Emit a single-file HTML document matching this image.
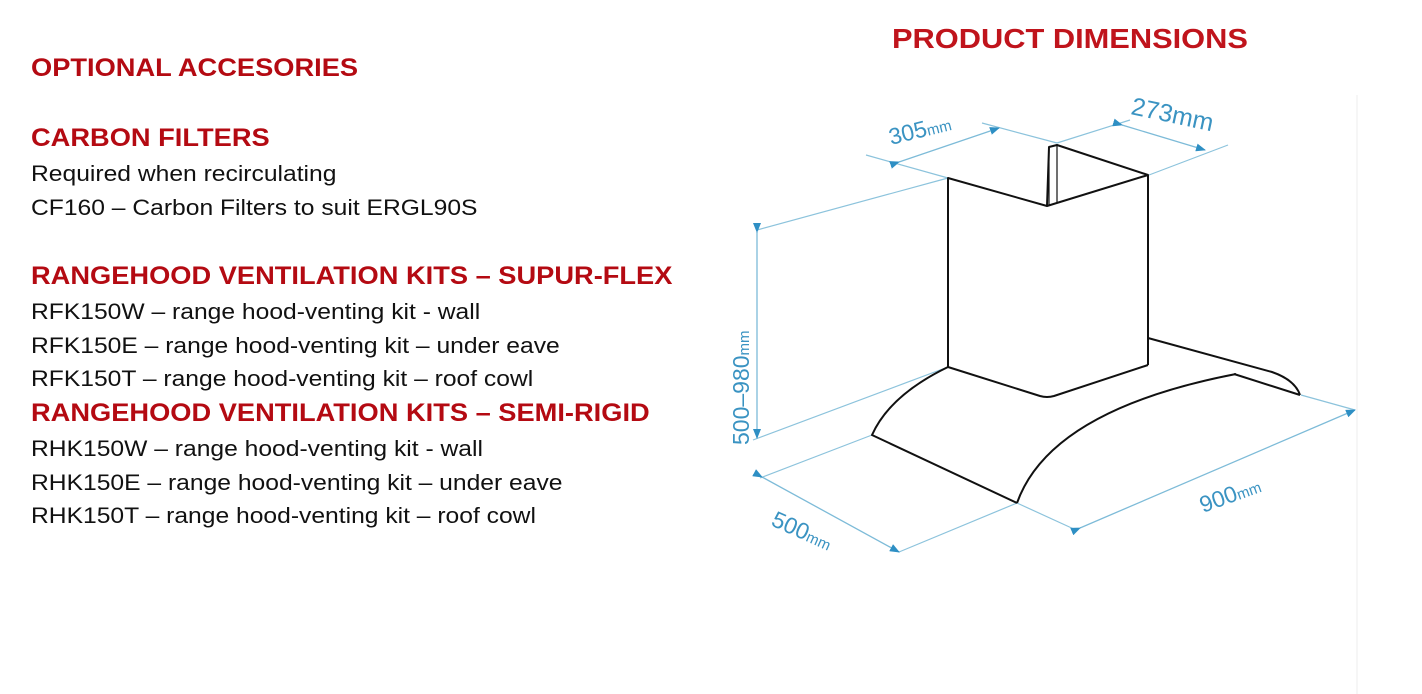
<!DOCTYPE html>
<html><head><meta charset="utf-8"><style>
body{margin:0;width:1422px;height:694px;background:#fff;position:relative;overflow:hidden;font-family:"Liberation Sans",Arial,sans-serif}
.t{position:absolute;left:31px;white-space:nowrap;line-height:1;transform-origin:0 0}
.h{color:#b40a12;font-weight:bold;font-size:25px;transform:scaleX(1.09)}
.b{color:#111;font-size:22px;transform:scaleX(1.12)}
</style></head><body>
<div class="t h" style="top:56px">OPTIONAL ACCESORIES</div>
<div class="t h" style="top:126px">CARBON FILTERS</div>
<div class="t b" style="top:163px">Required when recirculating</div>
<div class="t b" style="top:197px">CF160 – Carbon Filters to suit ERGL90S</div>
<div class="t h" style="top:264px">RANGEHOOD VENTILATION KITS – SUPUR-FLEX</div>
<div class="t b" style="top:301px">RFK150W – range hood-venting kit - wall</div>
<div class="t b" style="top:335px">RFK150E – range hood-venting kit – under eave</div>
<div class="t b" style="top:368px">RFK150T – range hood-venting kit – roof cowl</div>
<div class="t h" style="top:401px">RANGEHOOD VENTILATION KITS – SEMI-RIGID</div>
<div class="t b" style="top:438px">RHK150W – range hood-venting kit - wall</div>
<div class="t b" style="top:472px">RHK150E – range hood-venting kit – under eave</div>
<div class="t b" style="top:505px">RHK150T – range hood-venting kit – roof cowl</div>
<div class="t" style="left:892px;top:25px;color:#c0141c;font-weight:bold;font-size:28px;transform:scaleX(1.1)">PRODUCT DIMENSIONS</div>
<svg width="1422" height="694" style="position:absolute;left:0;top:0">
<defs><marker id="a" markerWidth="10" markerHeight="8" refX="9" refY="4" orient="auto" markerUnits="userSpaceOnUse"><path d="M0,0L10,4L0,8z" fill="#2e8fc4"/></marker></defs>
<line x1="1357" y1="95" x2="1357" y2="694" stroke="#eee" stroke-width="1"/>
<g stroke="#8cc3dc" stroke-width="1.2" fill="none">
<line x1="757" y1="230" x2="948" y2="178"/>
<line x1="753" y1="440" x2="948" y2="367"/>
<line x1="760" y1="478" x2="872" y2="435"/>
<line x1="899" y1="552" x2="1017" y2="503"/>
<line x1="1076" y1="530" x2="1017" y2="503"/>
<line x1="1355" y1="410" x2="1301" y2="395"/>
<line x1="866" y1="155" x2="948" y2="178"/>
<line x1="982" y1="123" x2="1057" y2="143"/>
<line x1="1057" y1="143" x2="1130" y2="120"/>
<line x1="1149" y1="175" x2="1228" y2="145"/>
</g>
<g stroke="#7dbbd8" stroke-width="1.3" marker-start="url(#a)" marker-end="url(#a)">
<line x1="757" y1="232" x2="757" y2="438"/>
<line x1="762" y1="477" x2="899" y2="552"/>
<line x1="1080" y1="528" x2="1355" y2="410"/>
<line x1="899" y1="162" x2="999" y2="128"/>
<line x1="1122" y1="125" x2="1205" y2="150"/>
</g>
<g stroke="#111" stroke-width="2" fill="none" stroke-linejoin="round">
<path d="M948,367 L948,178 L1047,206 L1148,175 L1148,365"/>
<path d="M1047,206 L1049,147 L1057,145 L1148,175"/>
<line x1="1049" y1="147" x2="1049" y2="205" stroke-width="1.2"/>
<line x1="1057" y1="145" x2="1057" y2="202" stroke-width="1.2"/>
<path d="M948,367 L1040,396 Q1047,398 1054,396 L1148,365"/>
<path d="M948,367 Q890,395 872,435 L1017,503"/>
<path d="M1017,503 Q1050,410 1236,374"/>
<path d="M1148,338 L1272,372 Q1295,380 1300,395"/>
<path d="M1234,374 L1300,395"/>
</g>
<g fill="#3a93c2" font-family="'Liberation Sans',Arial,sans-serif">
<text transform="translate(891,145) rotate(-14)" font-size="23">305<tspan font-size="15">mm</tspan></text>
<text transform="translate(1130,114) rotate(12)" font-size="25">273mm</text>
<text transform="translate(749,445) rotate(-90)" font-size="23">500–980<tspan font-size="15">mm</tspan></text>
<text transform="translate(770,525) rotate(24)" font-size="23">500<tspan font-size="15">mm</tspan></text>
<text transform="translate(1203,513) rotate(-20)" font-size="23">900<tspan font-size="15">mm</tspan></text>
</g>
</svg>
</body></html>
